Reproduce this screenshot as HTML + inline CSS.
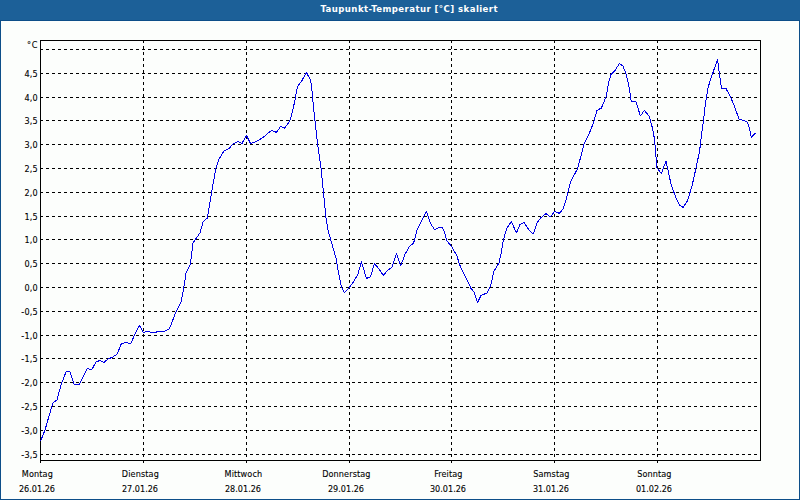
<!DOCTYPE html>
<html><head><meta charset="utf-8"><title>Taupunkt-Temperatur</title>
<style>
html,body{margin:0;padding:0;background:#fcfefc;}
body{width:800px;height:500px;position:relative;overflow:hidden;font-family:"DejaVu Sans Condensed","Liberation Sans",sans-serif;}
#frame{position:absolute;left:0;top:0;width:798px;height:498px;border:1px solid #0d4e89;background:#fcfefc;}
#hdr{position:absolute;left:0;top:0;width:800px;height:20px;background:#1c6098;border-bottom:1px solid #0d4e89;}
#ttl{position:absolute;left:320.5px;top:0;height:20px;line-height:18px;color:#fff;font-family:"DejaVu Sans Condensed","Liberation Sans",sans-serif;font-weight:bold;font-size:9.5px;letter-spacing:0.44px;white-space:nowrap;}
.yl{position:absolute;left:0;width:38px;letter-spacing:0.25px;text-align:right;font-size:9px;line-height:10px;height:10px;color:#000;white-space:nowrap;-webkit-text-stroke:0.1px #000;}
.xl{position:absolute;width:80px;text-align:center;font-size:9px;line-height:10px;height:10px;color:#000;white-space:nowrap;-webkit-text-stroke:0.1px #000;}
</style></head><body>
<div id="frame"></div>
<div id="hdr"></div>
<div id="ttl"><span id="tt">Taupunkt-Temperatur [°C] skaliert</span></div>

<svg width="800" height="500" viewBox="0 0 800 500" style="position:absolute;left:0;top:0" shape-rendering="crispEdges">
<path d="M40 49.5H760M40 73.5H760M40 97.5H760M40 120.5H760M40 144.5H760M40 168.5H760M40 192.5H760M40 216.5H760M40 239.5H760M40 263.5H760M40 287.5H760M40 311.5H760M40 335.5H760M40 358.5H760M40 382.5H760M40 406.5H760M40 430.5H760M40 454.5H760" stroke="#000" stroke-width="1" stroke-dasharray="3 3" fill="none"/>
<path d="M143.5 40V460M246.5 40V460M349.5 40V460M451.5 40V460M554.5 40V460M657.5 40V460" stroke="#000" stroke-width="1" stroke-dasharray="3 3" fill="none"/>
<rect x="40.5" y="40.5" width="720" height="420" fill="none" stroke="#000" stroke-width="1"/>
<path d="M40.5 460V463M143.5 460V463M246.5 460V463M349.5 460V463M451.5 460V463M554.5 460V463M657.5 460V463" stroke="#000" stroke-width="1" fill="none"/>
<polyline points="40.5,441 41,440 45,430 49,416 53,403 57,400 61,385 66,372 70,371.6 74,384 79,385 83,377 87.4,368.4 91.6,370 96,362 100,360.4 104,362.4 108,359 112,357.4 117,354.4 121.4,343.6 126,342.4 130.6,344 135,334 139.4,325.4 143.4,332.4 147.4,331.2 152.4,333 159,331.4 164,331.4 169,329 171,325 175,314 181,302 183.6,289 186,273 190.4,264 193,243 195.6,239 200,233 203,222 207.4,218 209,208 212,190 216,168 219,159 224,151 229,148.4 233.6,143.6 238,141.4 242,143.4 246.4,135.4 250.6,143.6 255,142 259,140 263,137.6 268,133 272,130.4 276.4,132.4 280.6,126.4 284.4,128.4 289.6,121.5 292.4,112 295,100 296.6,90 298,86 302,80.4 306.4,72.4 310.4,80 311.6,86 312.6,98 315,121 317.6,144 321,168.4 323.4,192 326,218 328,230 332,244 336,258 338,270 341.4,287 344.4,292.4 349.4,287.4 354,281 358,274 361.4,261.6 366.4,278.4 370.4,277 374.4,263.6 379,269 383.4,275.4 387.4,270.4 392,267.4 396.4,253.4 400.6,266 405,254.4 409.4,246.6 413.6,243 417,230.4 422,220 426.4,211.4 430.6,223.6 434.6,229.6 439,227.4 442,227.6 443.6,229.6 447,241 452,247 457,256 459.5,264.5 464,274 468,282 471,288.5 473.7,291.5 477.5,302.5 481,295.5 487,293 490,287.5 492,280 493.6,272 499,263 501.4,252 503.6,239 507,228 511.4,221.4 516.4,233 520,224.4 524,222.4 529,230 533.4,234 537,223 541,217.6 546,213.6 550.4,217 554.6,211.4 559.4,213.4 563,209 566,200 570.4,182 577.4,169 581,156 584,144 589,134 593,124 597,110.5 601.4,108 606,97 609,81 611,74.6 615,70.4 619.4,63.6 623,66 626,74 628.4,83 631.4,102 636,101.6 640.4,116 644.4,110.4 649,116 651.4,124 653.6,133 655,145 657,168 661.4,173.4 666,161 671,184 676,198 679.4,205 683,207.4 687.4,201 692,186 696,168 699.6,151 701.6,134 703.6,120 705.6,102 708,88 710,81 713,72.5 717.5,59.4 719.4,73.4 721.4,88 726,88.5 730,96 734,105 739,119 743.6,120.4 747.4,122.4 749,127 751.4,137.4 755.6,133" fill="none" stroke="#0000e6" stroke-width="1" stroke-linejoin="round"/>
</svg>
<div class="yl" style="top:40px;letter-spacing:0.8px;width:38.3px">°C</div>
<div class="yl" style="top:69px">4,5</div>
<div class="yl" style="top:93px">4,0</div>
<div class="yl" style="top:116px">3,5</div>
<div class="yl" style="top:140px">3,0</div>
<div class="yl" style="top:164px">2,5</div>
<div class="yl" style="top:188px">2,0</div>
<div class="yl" style="top:212px">1,5</div>
<div class="yl" style="top:235px">1,0</div>
<div class="yl" style="top:259px">0,5</div>
<div class="yl" style="top:283px">0,0</div>
<div class="yl" style="top:307px">-0,5</div>
<div class="yl" style="top:331px">-1,0</div>
<div class="yl" style="top:354px">-1,5</div>
<div class="yl" style="top:378px">-2,0</div>
<div class="yl" style="top:402px">-2,5</div>
<div class="yl" style="top:426px">-3,0</div>
<div class="yl" style="top:450px">-3,5</div>
<div class="xl" style="left:-3px;top:469px;letter-spacing:0.12px;margin-left:0.4px">Montag</div>
<div class="xl" style="left:-3px;top:484px">26.01.26</div>
<div class="xl" style="left:100px;top:469px;letter-spacing:0.12px;margin-left:0.4px">Dienstag</div>
<div class="xl" style="left:100px;top:484px">27.01.26</div>
<div class="xl" style="left:203px;top:469px;letter-spacing:0.12px;margin-left:0.4px">Mittwoch</div>
<div class="xl" style="left:203px;top:484px">28.01.26</div>
<div class="xl" style="left:306px;top:469px;letter-spacing:0.12px;margin-left:0.4px">Donnerstag</div>
<div class="xl" style="left:306px;top:484px">29.01.26</div>
<div class="xl" style="left:408px;top:469px;letter-spacing:0.12px;margin-left:0.4px">Freitag</div>
<div class="xl" style="left:408px;top:484px">30.01.26</div>
<div class="xl" style="left:511px;top:469px;letter-spacing:0.12px;margin-left:0.4px">Samstag</div>
<div class="xl" style="left:511px;top:484px">31.01.26</div>
<div class="xl" style="left:614px;top:469px;letter-spacing:0.12px;margin-left:0.4px">Sonntag</div>
<div class="xl" style="left:614px;top:484px">01.02.26</div>
</body></html>
